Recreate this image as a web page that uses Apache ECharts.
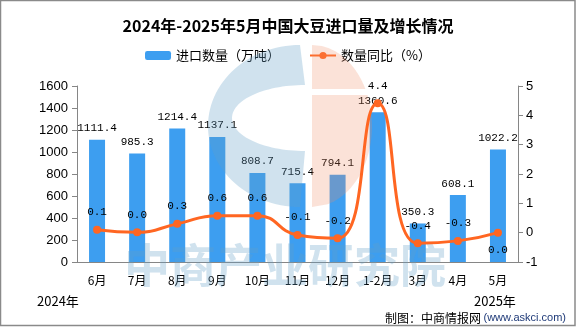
<!DOCTYPE html>
<html><head><meta charset="utf-8">
<script src="https://cdn.jsdelivr.net/npm/echarts@6/dist/echarts.min.js"></script>
<style>html,body{margin:0;padding:0;background:#fff}#c{width:576px;height:327px}</style>
</head><body><div id="c"></div>
<script>
const categories = ['6月','7月','8月','9月','10月','11月','12月','1-2月','3月','4月','5月'];
const importVolume = [1111.4, 985.3, 1214.4, 1137.1, 808.7, 715.4, 794.1, 1360.6, 350.3, 608.1, 1022.2];
const yoyGrowth = [0.1, 0.01, 0.3, 0.58, 0.58, -0.08, -0.19, 4.41, -0.36, -0.28, 0.0];
const leftAxisTicks = {min: 0, max: 1600, interval: 200};
const rightAxisTicks = {min: -1, max: 5, interval: 1};
const titleText = '2024年-2025年5月中国大豆进口量及增长情况';
const seriesNames = ['进口数量（万吨）', '数量同比（%）'];

const CJK = '"Noto Sans CJK SC", sans-serif';
const MONO = '"Liberation Mono", monospace';
const AX = '"Liberation Sans", Arial, sans-serif';

// watermark shapes (decoration)
function ellipsePts(cx, cy, rx, ry, a0, a1, n) {
  const pts = [];
  for (let i = 0; i <= n; i++) {
    const a = a0 + (a1 - a0) * i / n;
    pts.push([cx + rx * Math.cos(a), cy + ry * Math.sin(a)]);
  }
  return pts;
}
const cOuter = ellipsePts(300, 126, 92, 81, -Math.PI / 2, -Math.PI * 1.5, 60);
const cInner = ellipsePts(305, 118, 73, 33, -Math.PI * 1.5, -Math.PI / 2, 60);
const cPoly = cOuter.concat(cInner);
function halfEllipseClip(cx, cy, rx, ry, yTop, yBot) {
  const pts = [];
  const n = 40;
  for (let i = 0; i <= n; i++) {
    const y = yTop + (yBot - yTop) * i / n;
    const t = Math.max(0, 1 - Math.pow((y - cy) / ry, 2));
    pts.push([cx + rx * Math.sqrt(t), y]);
  }
  pts.push([cx, yBot]);
  pts.push([cx, yTop]);
  return pts;
}
const oUpper = halfEllipseClip(312, 126, 60, 81, 45, 89);
const oLower = halfEllipseClip(312, 126, 60, 81, 95, 207);
const wmBlue = 'rgba(100,160,200,0.3)';
const wmOrange = 'rgba(240,140,100,0.25)';

const chart = echarts.init(document.getElementById('c'), null, {renderer: 'canvas'});
chart.setOption({
  animation: false,
  backgroundColor: '#fff',
  title: {
    text: titleText, left: 'center', top: 13,
    textStyle: {fontFamily: CJK, fontSize: 16, fontWeight: 'bold', color: '#000'}
  },
  legend: {
    top: 44, left: 'center', itemWidth: 26, itemHeight: 9, itemGap: 29,
    textStyle: {fontFamily: CJK, fontSize: 13, color: '#000'},
    data: seriesNames
  },
  grid: {left: 77, right: 58, top: 86, bottom: 65},
  xAxis: {
    type: 'category', data: categories, boundaryGap: true,
    axisLine: {lineStyle: {color: '#868686', width: 1}},
    axisTick: {alignWithLabel: false, length: 4, lineStyle: {color: '#868686'}},
    axisLabel: {fontFamily: CJK, fontSize: 12, color: '#000', margin: 12, interval: 0}
  },
  yAxis: [{
    type: 'value', min: leftAxisTicks.min, max: leftAxisTicks.max, interval: leftAxisTicks.interval,
    splitLine: {show: false},
    axisLine: {show: true, lineStyle: {color: '#868686'}},
    axisTick: {show: true, length: 5, lineStyle: {color: '#868686'}},
    axisLabel: {fontFamily: AX, fontSize: 13, color: '#000', margin: 9, formatter: v => String(v)}
  }, {
    type: 'value', min: rightAxisTicks.min, max: rightAxisTicks.max, interval: rightAxisTicks.interval,
    splitLine: {show: false},
    axisLine: {show: true, lineStyle: {color: '#868686'}},
    axisTick: {show: true, length: 5, lineStyle: {color: '#868686'}},
    axisLabel: {fontFamily: AX, fontSize: 13, color: '#000', margin: 8, formatter: v => String(v)}
  }],
  series: [{
    name: seriesNames[0], type: 'bar', data: importVolume, barWidth: 16, z: 2,
    itemStyle: {color: '#3D9EF0'},
    label: {show: true, position: 'top', distance: 6, fontFamily: MONO, fontSize: 11, color: '#000',
      formatter: p => p.value.toFixed(1)}
  }, {
    name: seriesNames[1], type: 'line', yAxisIndex: 1, smooth: 0.5, z: 10,
    data: yoyGrowth.map((v, i) => i === yoyGrowth.length - 1 ? {value: v, label: {position: 'bottom'}} : v),
    symbol: 'circle', symbolSize: 8,
    lineStyle: {color: '#FF6622', width: 3},
    itemStyle: {color: '#FF6622'},
    label: {show: true, position: 'top', distance: 8, fontFamily: MONO, fontSize: 11, color: '#000',
      formatter: p => p.value.toFixed(1)}
  }],
  graphic: [
    {type: 'polygon', z: 5, silent: true, shape: {points: cPoly}, style: {fill: wmBlue}},
    {type: 'polygon', z: 5, silent: true, shape: {points: oUpper}, style: {fill: wmOrange}},
    {type: 'polygon', z: 5, silent: true, shape: {points: oLower}, style: {fill: wmOrange}},
    {type: 'text', z: 5, silent: true, x: 285, y: 265,
      style: {text: '中商产业研究院', font: 'bold 46px "Noto Sans CJK SC"', fill: wmBlue, textAlign: 'center', textVerticalAlign: 'middle'}},
    {type: 'text', x: 37, y: 301, style: {text: '2024年', font: '13px "Noto Sans CJK SC"', fill: '#000', textAlign: 'left', textVerticalAlign: 'middle'}},
    {type: 'text', x: 474, y: 301, style: {text: '2025年', font: '13px "Noto Sans CJK SC"', fill: '#000', textAlign: 'left', textVerticalAlign: 'middle'}},
    {type: 'text', x: 481, y: 318, style: {text: '制图：中商情报网', font: '12px "Noto Sans CJK SC"', fill: '#000', textAlign: 'right', textVerticalAlign: 'middle'}},
    {type: 'text', x: 566, y: 318, style: {text: '(www.askci.com)', font: '11px "Liberation Sans"', fill: '#1F3A78', textAlign: 'right', textVerticalAlign: 'middle'}},
    {type: 'rect', z: 100, silent: true, shape: {x: 0.5, y: 0.5, width: 574.5, height: 325}, style: {fill: 'none', stroke: '#8A8A8A', lineWidth: 1.5}}
  ]
});
</script>
</body></html>
